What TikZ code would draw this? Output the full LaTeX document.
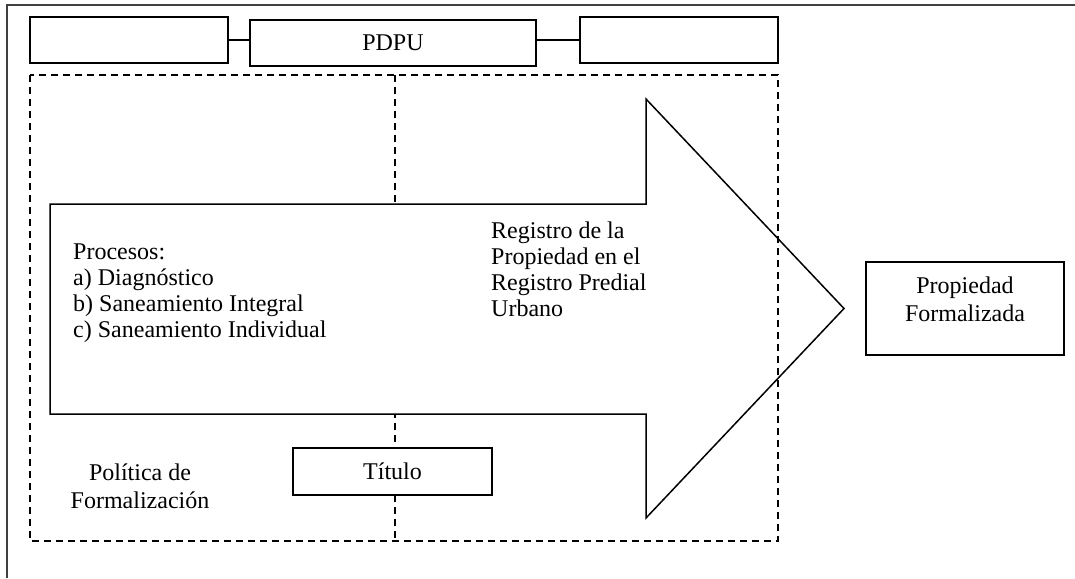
\documentclass[tikz,border=0pt]{standalone}
\usepackage{fontspec}
\setmainfont{Liberation Serif}
\begin{document}
\begin{tikzpicture}[x=1pt,y=-1pt,
  box/.style={draw=black,line width=1.6pt,fill=white,inner sep=0pt,font=\fontsize{24}{26}\selectfont},
  dashedline/.style={draw=black,line width=1.6pt,dash pattern=on 7pt off 5pt},
  bigarrow/.style={draw=black,line width=1.5pt,fill=white,line join=miter},
  lbl/.style={inner sep=0pt,font=\fontsize{24}{26}\selectfont},
  lblc/.style={inner sep=0pt,font=\fontsize{24}{28}\selectfont,align=center},
  frame/.style={draw=black!75,line width=2pt},
  link/.style={draw=black,line width=1.6pt}]
\useasboundingbox (0,0) rectangle (1075,578);
% outer frame (top and left edges)
\draw[frame] (7,578) -- (7,5) -- (1075,5);
% top row of boxes
\node[box,minimum width=198pt,minimum height=46pt] (b1) at (129,40) {};
\node[box,minimum width=286pt,minimum height=46pt] (pdpu) at (393,43) {PDPU};
\node[box,minimum width=198pt,minimum height=46pt] (b3) at (679,40) {};
\coordinate (c1) at (b1.east -| pdpu.west);
\coordinate (c2) at (b3.west -| pdpu.east);
\draw[link] (b1.east) -- (c1);
\draw[link] (c2) -- (b3.west);
% dashed frame and middle divider
\coordinate (dtop) at (395,75);
\coordinate (dbot) at (395,541);
\draw[dashedline] (dtop) -- (dbot);
% big arrow
\draw[bigarrow] (50,204) -- (646,204) -- (646,99) -- (844,308.5) -- (646,518) -- (646,414) -- (50,414) -- cycle;
\draw[dashedline] (30,75) rectangle (778,541);
% Titulo box
\node[box,minimum width=199pt,minimum height=47pt] (titulo) at (392.5,471.5) {Título};
% result box
\node[box,minimum width=198pt,minimum height=93pt] (prop) at (965,308.5) {};
\node[lblc,anchor=north] (proptxt) at (965,277) {Propiedad\\Formalizada};
% texts
\node[lbl,align=left,anchor=north west] (procesos) at (73,243.4) {Procesos:\\a) Diagnóstico\\b) Saneamiento Integral\\c) Saneamiento Individual};
\node[lbl,align=left,anchor=north west] (registro) at (491,221.6) {Registro de la\\Propiedad en el\\Registro Predial\\Urbano};
\node[lblc,anchor=north] (politica) at (140,463.6) {Política de\\Formalización};
\end{tikzpicture}
\end{document}
